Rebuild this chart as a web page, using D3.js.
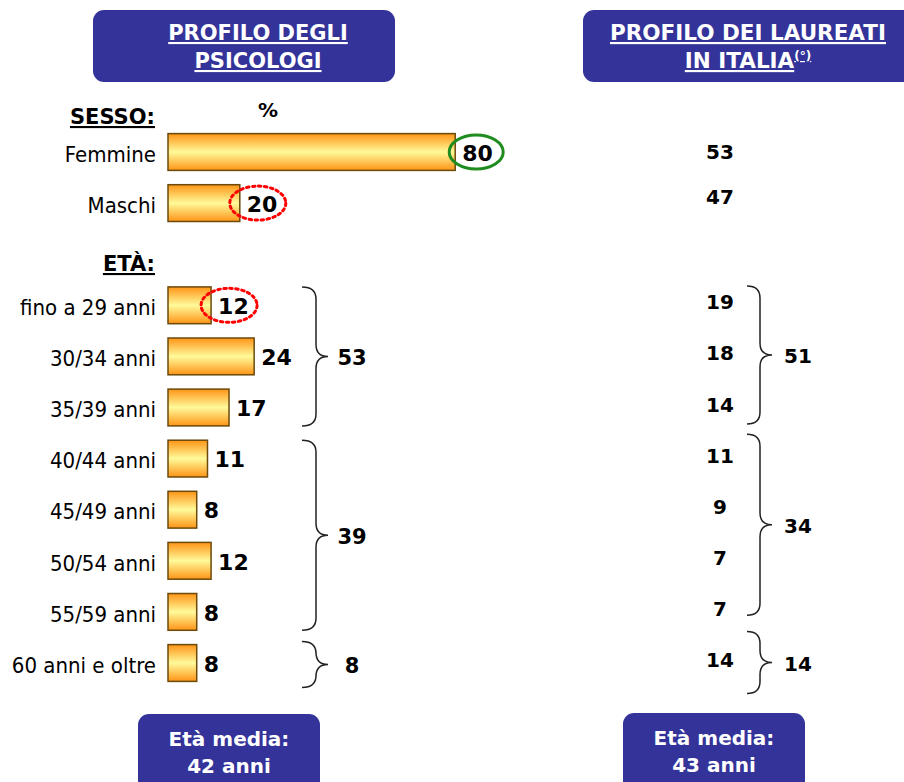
<!DOCTYPE html>
<html><head><meta charset="utf-8">
<script src="https://cdn.jsdelivr.net/npm/d3@7"></script>
<style>
html,body{margin:0;padding:0;background:#fff;}
svg{display:block;font-family:Verdana,"DejaVu Sans",sans-serif;}
.cond{font-family:"DejaVu Sans Condensed","DejaVu Sans",sans-serif;}
</style></head>
<body>
<svg id="chart" width="904" height="782"></svg>
<script>
// ---- data ----
const categories = ["Femmine","Maschi","fino a 29 anni","30/34 anni","35/39 anni","40/44 anni","45/49 anni","50/54 anni","55/59 anni","60 anni e oltre"];
const rowSlots = [0,1,3,4,5,6,7,8,9,10];
const psicologi = [80,20,12,24,17,11,8,12,8,8];
const laureati = [53,47,19,18,14,11,9,7,7,14];
const psiGroupRows = [[2,4],[5,8],[9,9]];
const psiGroupValues = [53,39,8];
const laurGroupRows = [[2,4],[5,8],[9,9]];
const laurGroupValues = [51,34,14];
const sectionTitles = ["SESSO:","ETÀ:"];
const headerLeft = ["PROFILO DEGLI","PSICOLOGI"];
const headerRight = ["PROFILO DEI LAUREATI","IN ITALIA"];
const mediaLeft = ["Età media:","42 anni"];
const mediaRight = ["Età media:","43 anni"];

const svg = d3.select("#chart");
const navy = "#333399";

// scales
const y = d3.scaleBand().domain(d3.range(11)).range([126.45, 688.55]).paddingInner(0.28).paddingOuter(0.14);
const x = d3.scaleLinear().domain([0,100]).range([168, 527]);
const rowTop = i => y(rowSlots[i]);
const rowMid = i => y(rowSlots[i]) + y.bandwidth()/2;

// gradient
const defs = svg.append("defs");
const g = defs.append("linearGradient").attr("id","barGrad").attr("x1",0).attr("y1",0).attr("x2",0).attr("y2",1);
g.append("stop").attr("offset","0%").attr("stop-color","#FF9416");
g.append("stop").attr("offset","50%").attr("stop-color","#FFFA9A");
g.append("stop").attr("offset","100%").attr("stop-color","#FF9416");

function box(x0,y0,w,h){
  svg.append("rect").attr("x",x0).attr("y",y0).attr("width",w).attr("height",h).attr("rx",11).attr("fill",navy);
}
box(93,10,302,72);
box(583,10,340,72);
const hl = svg.append("g").attr("fill","#fff").attr("font-weight","bold").attr("font-size",21).attr("text-anchor","middle").attr("text-decoration","underline");
hl.selectAll("text.hl").data(headerLeft).join("text").attr("x",258).attr("y",(d,i)=>40+i*28).text(d=>d);
hl.append("text").attr("x",748).attr("y",40).attr("font-size",21.5).text(headerRight[0]);
const t2 = hl.append("text").attr("x",748).attr("y",68).attr("font-size",21.5);
t2.append("tspan").text(headerRight[1]);
t2.append("tspan").attr("font-size",12).attr("dy",-8).text("(°)");

// section titles
svg.append("text").attr("x",155).attr("y",124).attr("text-anchor","end").attr("font-weight","bold").attr("font-size",21).attr("text-decoration","underline").text(sectionTitles[0]);
svg.append("text").attr("x",155).attr("y",271).attr("text-anchor","end").attr("font-weight","bold").attr("font-size",21).attr("text-decoration","underline").text(sectionTitles[1]);
svg.append("text").attr("x",268).attr("y",117).attr("text-anchor","middle").attr("font-weight","bold").attr("font-size",20).text("%");

// category labels
svg.append("g").attr("class","cond").selectAll("text").data(categories).join("text")
  .attr("x",156).attr("y",(d,i)=>rowMid(i)+2).attr("dy","0.35em")
  .attr("text-anchor","end").attr("font-size",22).attr("fill","#000").text(d=>d);

// bars
svg.append("g").selectAll("rect").data(psicologi).join("rect")
  .attr("x",x(0)).attr("y",(d,i)=>rowTop(i)).attr("width",d=>x(d)-x(0)).attr("height",y.bandwidth())
  .attr("fill","url(#barGrad)").attr("stroke","#6B4A0A").attr("stroke-width",1.5);

// value labels
svg.append("g").selectAll("text").data(psicologi).join("text")
  .attr("x",d=>x(d)+7).attr("y",(d,i)=>rowMid(i)+1).attr("dy","0.35em")
  .attr("font-weight","bold").attr("font-size",22).text(d=>d);

// highlight ellipses
svg.append("ellipse").attr("cx",x(psicologi[0])+21).attr("cy",rowMid(0)).attr("rx",27).attr("ry",17)
  .attr("fill","none").attr("stroke","#1E8C1E").attr("stroke-width",3);
[1,2].forEach(i=>{
  svg.append("ellipse").attr("cx",x(psicologi[i])+18).attr("cy",rowMid(i)).attr("rx",28).attr("ry",17)
    .attr("fill","none").attr("stroke","#FF0000").attr("stroke-width",3).attr("stroke-dasharray","2.5,3.5").attr("stroke-linecap","round");
});

// right column values
svg.append("g").selectAll("text").data(laureati).join("text")
  .attr("x",720).attr("y",(d,i)=>rowMid(i)-(i===1?6:(i===0?0:3))).attr("dy","0.35em")
  .attr("text-anchor","middle").attr("font-weight","bold").attr("font-size",20).text(d=>d);

// braces
function brace(x0,xv,xt,y0,y1,ym){
  const r=12;
  return `M${x0},${y0} Q${xv},${y0} ${xv},${y0+r} L${xv},${ym-r} Q${xv},${ym} ${xt},${ym} Q${xv},${ym} ${xv},${ym+r} L${xv},${y1-r} Q${xv},${y1} ${x0},${y1}`;
}
psiGroupRows.forEach((gr,k)=>{
  let y0 = rowTop(gr[0]), y1 = rowTop(gr[1])+y.bandwidth();
  if(gr[0]===gr[1]){y0-=3;y1+=6;}
  const ym=(y0+y1)/2;
  svg.append("path").attr("d",brace(302,316,328,y0,y1,ym)).attr("fill","none").attr("stroke","#222").attr("stroke-width",1.5);
  svg.append("text").attr("x",352).attr("y",ym+1).attr("dy","0.35em").attr("text-anchor","middle").attr("font-weight","bold").attr("font-size",21).text(psiGroupValues[k]);
});
const laurAdj = [[-1,-2],[-6,-15],[-13,12]];
laurGroupRows.forEach((gr,k)=>{
  let y0 = rowTop(gr[0])+laurAdj[k][0], y1 = rowTop(gr[1])+y.bandwidth()+laurAdj[k][1];
  const ym=(y0+y1)/2;
  svg.append("path").attr("d",brace(747,760,772,y0,y1,ym)).attr("fill","none").attr("stroke","#222").attr("stroke-width",1.5);
  svg.append("text").attr("x",798).attr("y",ym+1).attr("dy","0.35em").attr("text-anchor","middle").attr("font-weight","bold").attr("font-size",20).text(laurGroupValues[k]);
});

// bottom boxes
box(138,714,182,80);
box(623,713,182,80);
const bl = svg.append("g").attr("fill","#fff").attr("font-weight","bold").attr("font-size",20).attr("text-anchor","middle");
bl.selectAll("text.l").data(mediaLeft).join("text").attr("x",229).attr("y",(d,i)=>746+i*27).text(d=>d);
bl.selectAll("text.r").data(mediaRight).enter().append("text").attr("x",714).attr("y",(d,i)=>745+i*27).text(d=>d);
</script>
</body></html>
